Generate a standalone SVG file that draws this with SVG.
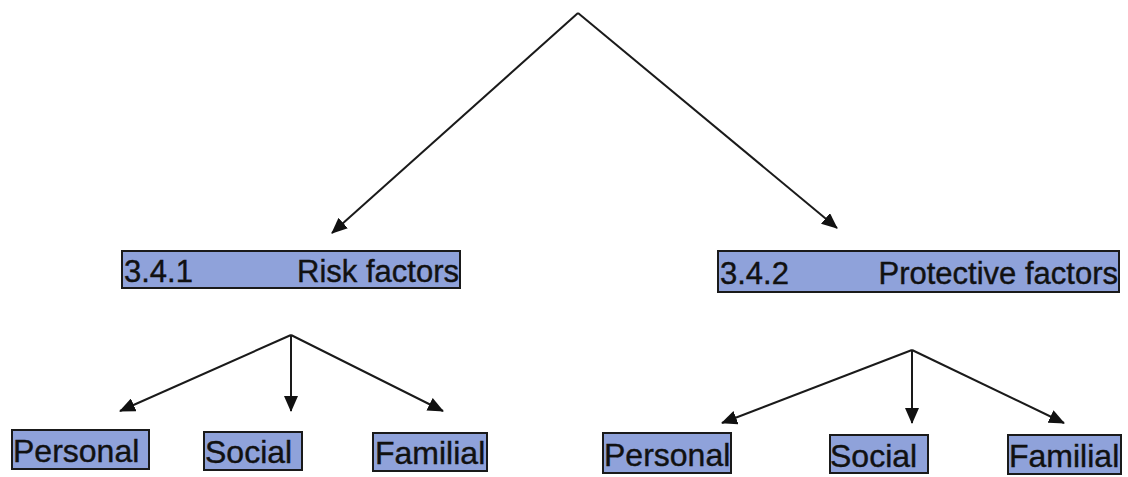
<svg xmlns="http://www.w3.org/2000/svg" width="1128" height="477" viewBox="0 0 1128 477">
<style>
.box{fill:#8fa2da;stroke:#1a1a1a;stroke-width:2}
.h{font-family:"Liberation Sans",Arial,sans-serif;font-size:31px;fill:#111;stroke:#111;stroke-width:0.4}
.b{font-family:"Liberation Sans",Arial,sans-serif;font-size:32px;fill:#111;stroke:#111;stroke-width:0.4}
.c{fill:none;stroke:#1a1a1a;stroke-width:2;marker-end:url(#ah)}
</style>
<defs>
<marker id="ah" viewBox="0 0 16 14" refX="15" refY="7" markerWidth="16" markerHeight="14" markerUnits="userSpaceOnUse" orient="auto">
<path d="M0,0 L16,7 L0,14 z" fill="#111"/>
</marker>
</defs>
<rect width="1128" height="477" fill="#fff"/>
<g id="connectors">
<path class="c" d="M578,13 L332,233"/>
<path class="c" d="M578,13 L837,228"/>
<path class="c" d="M291,335 L120,411"/>
<path class="c" d="M291,335 L291,411"/>
<path class="c" d="M291,335 L443,411"/>
<path class="c" d="M912,350 L722,423"/>
<path class="c" d="M912,350 L912,423"/>
<path class="c" d="M912,350 L1064,423"/>
</g>
<g id="risk">
<rect class="box" x="122" y="251" width="338" height="37"/>
<text class="h" x="124" y="282">3.4.1</text>
<text class="h" x="459" y="282" text-anchor="end">Risk factors</text>
</g>
<g id="protective">
<rect class="box" x="718" y="251" width="401" height="41"/>
<text class="h" x="720" y="284">3.4.2</text>
<text class="h" x="1118" y="284" text-anchor="end">Protective factors</text>
</g>
<g id="r-personal">
<rect class="box" x="12" y="430" width="137" height="39"/>
<text class="b" x="13" y="462">Personal</text>
</g>
<g id="r-social">
<rect class="box" x="204" y="432" width="98" height="38"/>
<text class="b" x="205" y="463">Social</text>
</g>
<g id="r-familial">
<rect class="box" x="373" y="433" width="114" height="38"/>
<text class="b" x="375" y="464">Familial</text>
</g>
<g id="p-personal">
<rect class="box" x="603" y="433" width="128" height="40"/>
<text class="b" x="604" y="466">Personal</text>
</g>
<g id="p-social">
<rect class="box" x="830" y="435" width="98" height="38"/>
<text class="b" x="830" y="467">Social</text>
</g>
<g id="p-familial">
<rect class="box" x="1008" y="435" width="113" height="39"/>
<text class="b" x="1009" y="467">Familial</text>
</g>
</svg>
